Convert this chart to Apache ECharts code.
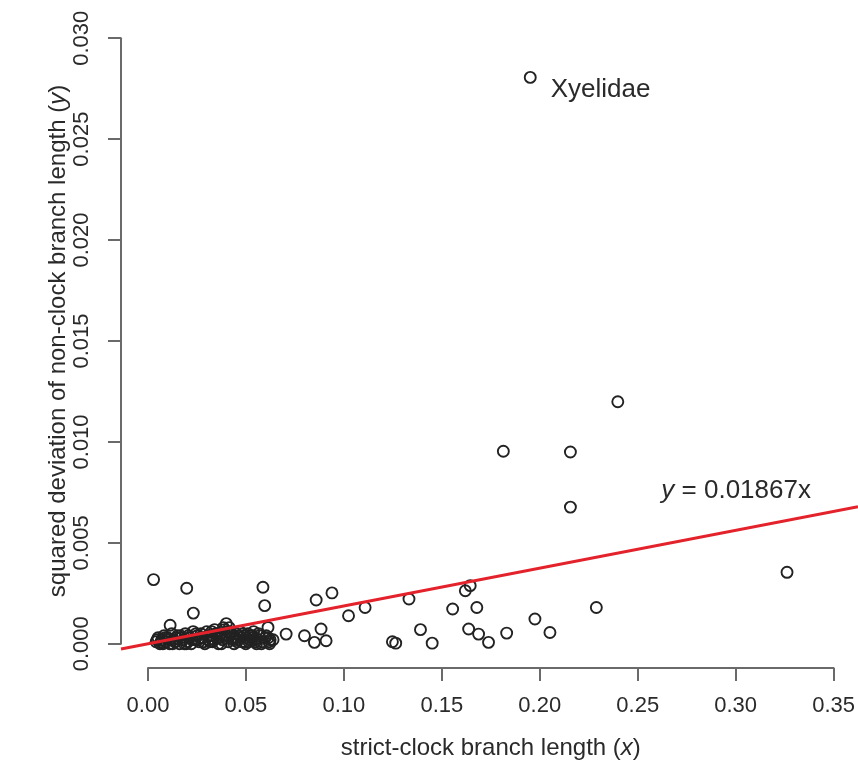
<!DOCTYPE html>
<html>
<head>
<meta charset="utf-8">
<script src="https://cdn.jsdelivr.net/npm/echarts@6/dist/echarts.min.js"></script>
<style>
html,body{margin:0;padding:0;background:#fff;}
#chart{width:858px;height:765px;}
</style>
</head>
<body>
<div id="chart"></div>
<script>
// ---- data ----
const pointsX = [
  0.0027, 0.0197, 0.0231, 0.0112, 0.0588, 0.0597, 0.0861, 0.0942, 0.1027, 0.1112,
  0.0614, 0.0707, 0.0801, 0.0886, 0.0912, 0.0852, 0.0622, 0.0554, 0.1252,
  0.1337, 0.1626, 0.1651, 0.1561, 0.1685, 0.1983, 0.1396, 0.1269, 0.1456, 0.1643,
  0.1694, 0.1745, 0.1838, 0.2298, 0.2060, 0.2408, 0.1821, 0.2165, 0.2165, 0.3276,
  0.0400,
  0.004, 0.005, 0.006, 0.007, 0.008, 0.009, 0.010, 0.011, 0.012, 0.013,
  0.014, 0.015, 0.016, 0.017, 0.018, 0.019, 0.020, 0.021, 0.022, 0.023,
  0.024, 0.025, 0.026, 0.027, 0.028, 0.029, 0.030, 0.031, 0.032, 0.033,
  0.034, 0.035, 0.036, 0.037, 0.038, 0.039, 0.040, 0.041, 0.042, 0.043,
  0.044, 0.045, 0.046, 0.047, 0.048, 0.049, 0.050, 0.051, 0.052, 0.053,
  0.054, 0.055, 0.057, 0.058, 0.060, 0.062, 0.064,
  0.0045, 0.0065, 0.0085, 0.0105, 0.0125, 0.0145, 0.0165, 0.0185, 0.0205, 0.0225,
  0.0245, 0.0265, 0.0285, 0.0305, 0.0325, 0.0345, 0.0365, 0.0385, 0.0405, 0.0425,
  0.0445, 0.0465, 0.0485, 0.0505, 0.0525, 0.0545, 0.0565, 0.0585, 0.0605, 0.0625,
  0.0075, 0.0135, 0.0195, 0.0255, 0.0315, 0.0375, 0.0435, 0.0495, 0.0555, 0.0615,
  0.0335, 0.0355, 0.0395, 0.0415, 0.0455, 0.0475, 0.0515, 0.0535
];
const pointsY = [
  0.00318, 0.00275, 0.00152, 0.00092, 0.00280, 0.00189, 0.00217, 0.00252, 0.00139, 0.00180,
  0.00081, 0.00048, 0.00040, 0.00073, 0.00015, 0.00007, 0.00000, 0.00025, 0.00010,
  0.00222, 0.00263, 0.00288, 0.00172, 0.00180, 0.00123, 0.00070, 0.00003, 0.00003, 0.00073,
  0.00048, 0.00007, 0.00053, 0.00180, 0.00056, 0.01199, 0.00954, 0.00950, 0.00677, 0.00354,
  0.00100,
  0.0001, 0.0003, 0.0000, 0.0002, 0.0004, 0.0001, 0.0003, 0.0000, 0.0005, 0.0002,
  0.0001, 0.0004, 0.0000, 0.0003, 0.0002, 0.0005, 0.0001, 0.0003, 0.0000, 0.0006,
  0.0002, 0.0004, 0.0001, 0.0005, 0.0003, 0.0000, 0.0006, 0.0002, 0.0004, 0.0001,
  0.0007, 0.0003, 0.0000, 0.0005, 0.0002, 0.0007, 0.0004, 0.0001, 0.0006, 0.0003,
  0.0000, 0.0005, 0.0002, 0.0006, 0.0001, 0.0004, 0.0000, 0.0005, 0.0002, 0.0003,
  0.0006, 0.0001, 0.0004, 0.0000, 0.0003, 0.0001, 0.0002,
  0.0002, 0.0001, 0.0003, 0.0002, 0.0000, 0.0003, 0.0004, 0.0000, 0.0004, 0.0002,
  0.0005, 0.0003, 0.0001, 0.0004, 0.0006, 0.0005, 0.0003, 0.0008, 0.0006, 0.0005,
  0.0003, 0.0004, 0.0005, 0.0003, 0.0004, 0.0002, 0.0005, 0.0001, 0.0004, 0.0002,
  0.0000, 0.0001, 0.0000, 0.0002, 0.0001, 0.0000, 0.0002, 0.0001, 0.0000, 0.0003,
  0.0002, 0.0005, 0.0003, 0.0008, 0.0001, 0.0003, 0.0001, 0.0004
];
const labelledName = 'Xyelidae';
const labelledPoint = [0.1959, 0.02806];
const slope = 0.01867;
const xTickLabels = ['0.00', '0.05', '0.10', '0.15', '0.20', '0.25', '0.30', '0.35'];
const yTickLabels = ['0.000', '0.005', '0.010', '0.015', '0.020', '0.025', '0.030'];
const xTitle = 'strict-clock branch length';
const yTitle = 'squared deviation of non-clock branch length';

// ---- chart ----
const FONT = '"Liberation Sans", Arial, Helvetica, sans-serif';
const AXIS_COLOR = '#6a6a6a';
const TEXT_COLOR = '#2a2a2a';
const plotXMin = -0.014, plotXMax = 0.364;
const plotYMin = -0.0012, plotYMax = 0.0312;

const scatterData = pointsX.map((x, i) => [x, pointsY[i]]);
const chart = echarts.init(document.getElementById('chart'), null, {renderer: 'canvas'});

const option = {
  backgroundColor: '#ffffff',
  animation: false,
  textStyle: {fontFamily: FONT},
  grid: [
    {left: 121, top: 14, width: 740, height: 654},
    {left: 148, top: 14, width: 686, height: 654},
    {left: 121, top: 38.2, width: 10, height: 605.6}
  ],
  xAxis: [
    {gridIndex: 0, type: 'value', min: plotXMin, max: plotXMax, show: false},
    {
      gridIndex: 1, type: 'value', min: 0, max: 0.35, interval: 0.05,
      axisLine: {show: true, onZero: false, lineStyle: {color: AXIS_COLOR, width: 2}},
      axisTick: {show: true, inside: false, length: 13, lineStyle: {color: AXIS_COLOR, width: 2}},
      splitLine: {show: false},
      axisLabel: {
        margin: 27, fontSize: 22, color: TEXT_COLOR, fontFamily: FONT,
        formatter: (v) => xTickLabels[Math.round(v / 0.05)]
      },
      name: '{n|' + xTitle + ' (}{i|x}{n|)}',
      nameLocation: 'middle', nameGap: 68,
      nameTextStyle: {
        rich: {
          n: {fontSize: 24, color: TEXT_COLOR, fontFamily: FONT},
          i: {fontSize: 24, color: TEXT_COLOR, fontFamily: FONT, fontStyle: 'italic'}
        }
      }
    },
    {gridIndex: 2, type: 'value', show: false}
  ],
  yAxis: [
    {gridIndex: 0, type: 'value', min: plotYMin, max: plotYMax, show: false},
    {gridIndex: 1, type: 'value', show: false},
    {
      gridIndex: 2, type: 'value', min: 0, max: 0.03, interval: 0.005,
      axisLine: {show: true, onZero: false, lineStyle: {color: AXIS_COLOR, width: 2}},
      axisTick: {show: true, inside: false, length: 13, lineStyle: {color: AXIS_COLOR, width: 2}},
      splitLine: {show: false},
      axisLabel: {
        margin: 28, fontSize: 22, color: TEXT_COLOR, fontFamily: FONT, rotate: 90,
        formatter: (v) => yTickLabels[Math.round(v / 0.005)]
      },
      name: '{n|' + yTitle + ' (}{i|y}{n|)}',
      nameLocation: 'middle', nameGap: 46,
      nameTextStyle: {
        rich: {
          n: {fontSize: 24, color: TEXT_COLOR, fontFamily: FONT},
          i: {fontSize: 24, color: TEXT_COLOR, fontFamily: FONT, fontStyle: 'italic'}
        }
      }
    }
  ],
  series: [
    {
      type: 'scatter', xAxisIndex: 0, yAxisIndex: 0,
      symbol: 'circle', symbolSize: 11,
      itemStyle: {color: 'rgba(0,0,0,0)', borderColor: '#222', borderWidth: 1.9, opacity: 1},
      data: scatterData.concat([{
        value: labelledPoint, name: labelledName,
        label: {
          show: true, position: 'right', distance: 14, offset: [0, 12],
          formatter: labelledName, fontSize: 26, color: TEXT_COLOR, fontFamily: FONT
        }
      }]),
      z: 2
    },
    {
      type: 'line', xAxisIndex: 0, yAxisIndex: 0,
      data: [[plotXMin, plotXMin * slope], [plotXMax, plotXMax * slope]],
      symbol: 'none', clip: true,
      lineStyle: {color: '#e4222b', width: 3},
      z: 3,
      markPoint: {
        symbol: 'circle', symbolSize: 0,
        label: {
          show: true, position: 'inside',
          formatter: '{i|y}{n| = ' + slope + '}{n|x}',
          rich: {
            n: {fontSize: 26, color: TEXT_COLOR, fontFamily: FONT},
            i: {fontSize: 26, color: TEXT_COLOR, fontFamily: FONT, fontStyle: 'italic'}
          }
        },
        data: [{coord: [0.3015, 0.0076]}]
      }
    }
  ]
};
chart.setOption(option);
</script>
</body>
</html>
